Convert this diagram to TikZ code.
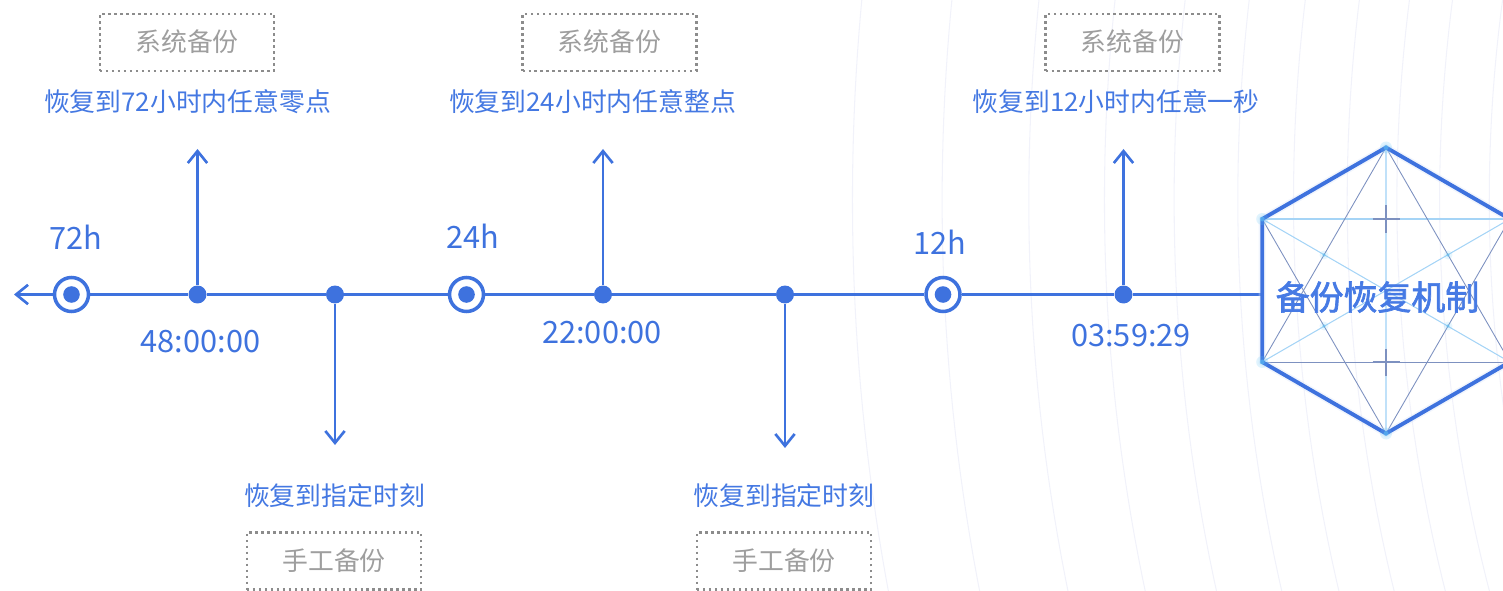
\documentclass[tikz,border=0pt]{standalone}
\usepackage{fontspec}
\setmainfont{Noto Sans CJK SC}
\newfontfamily\emblemfont[FakeBold=2]{Noto Sans CJK SC}
\usetikzlibrary{arrows.meta}

\definecolor{tlblue}{RGB}{62,114,222}
\definecolor{lblblue}{RGB}{68,120,226}
\definecolor{hexblue}{RGB}{70,122,228}
\definecolor{boxgray}{RGB}{140,140,140}
\definecolor{boxtext}{RGB}{158,158,158}
\definecolor{bgwave}{RGB}{241,242,250}
\definecolor{starline}{RGB}{125,145,192}
\definecolor{diagline}{RGB}{165,212,246}
\definecolor{glowcyan}{RGB}{95,195,245}

\begin{document}
\begin{tikzpicture}[x=0.02cm,y=-0.02cm,
  tl/.style={draw=tlblue,line width=1.5pt},
  tlarrow/.style={tl,-{Straight Barb[length=6.8pt,width=11pt]}},
  target/.style={circle,draw=tlblue,line width=2pt,fill=white,minimum size=0.68cm,inner sep=0pt,
    path picture={\fill[tlblue] (path picture bounding box.center) circle (0.166cm);}},
  tick/.style={circle,fill=tlblue,minimum size=0.36cm,inner sep=0pt},
  hours/.style={text=tlblue,font=\fontsize{17.5pt}{20pt}\selectfont,anchor=base,inner sep=0pt},
  note/.style={text=lblblue,font=\fontsize{14.7pt}{17pt}\selectfont,
    text height=12.9pt,text depth=1.8pt,inner sep=0pt},
  backup/.style={draw=boxgray,line width=1.4pt,dash pattern=on 1.4pt off 2pt,
    text=boxtext,font=\fontsize{14.7pt}{17pt}\selectfont,
    text height=12.6pt,text depth=2.1pt,
    minimum width=3.48cm,minimum height=1.14cm,inner sep=0pt},
  bgline/.style={draw=bgwave,line width=0.6pt},
  hexedge/.style={draw=tlblue,line width=2.2pt,line join=miter},
  starln/.style={draw=starline,line width=0.5pt},
  diagln/.style={draw=diagline,line width=0.6pt},
  glow/.style={fill=glowcyan,opacity=0.55},
]
\useasboundingbox (0,0) rectangle (1503,591);
\clip (0,0) rectangle (1503,591);

% faint sweeping background lines
\foreach \xo in {860,950,1037,1113,1183,1247,1303,1357,1407,1450,1500}{
  \draw[bgline] plot[domain=-10:600,samples=30,variable=\t]
    ({3000-100*sqrt(((3000-\xo)/100)^2+3.24-((\t-200)/100)^2)},\t);
}

% timeline stations
\node[target] (t72) at (71.5,294.5) {};
\node[tick]   (d48) at (197.5,294.5) {};
\node[tick]   (dm1) at (335,294.5) {};
\node[target] (t24) at (466.5,294.5) {};
\node[tick]   (d22) at (603,294.5) {};
\node[tick]   (dm2) at (785,294.5) {};
\node[target] (t12) at (943,294.5) {};
\node[tick]   (d03) at (1123.5,294.5) {};
\coordinate (tail) at (14,294.5);
\coordinate (hexw) at (1262,294.5);

\draw[tlarrow] (t72) -- (tail);
\draw[tl] (t72) -- (d48) -- (dm1) -- (t24) -- (d22) -- (dm2) -- (t12) -- (d03) -- (hexw);

% branch arrows
\coordinate (u48) at (197.5,149);
\coordinate (u22) at (603,149);
\coordinate (u03) at (1123.5,149);
\coordinate (v1) at (335,445);
\coordinate (v2) at (785,448);
\draw[tlarrow] (d48) -- (u48);
\draw[tlarrow] (d22) -- (u22);
\draw[tlarrow] (d03) -- (u03);
\draw[tlarrow] (dm1) -- (v1);
\draw[tlarrow] (dm2) -- (v2);

% hour labels and time stamps
\node[hours] (h72) at (75.5,249) {72h};
\node[hours] (h24) at (473,248) {24h};
\node[hours] (h12) at (940,254) {12h};
\node[hours] (s48) at (200.5,352) {48:00:00};
\node[hours] (s22) at (602,343) {22:00:00};
\node[hours] (s03) at (1131,346) {03:59:29};

% restore descriptions
\node[note] (n72) at (187.5,102) {恢复到72小时内任意零点};
\node[note] (n24) at (592.5,102) {恢复到24小时内任意整点};
\node[note] (n12) at (1116,102) {恢复到12小时内任意一秒};
\node[note] (nm1) at (334.5,496) {恢复到指定时刻};
\node[note] (nm2) at (784,496) {恢复到指定时刻};

% backup type boxes
\node[backup] (b1) at (187,42.5) {系统备份};
\node[backup] (b2) at (609.5,42.5) {系统备份};
\node[backup] (b3) at (1132.5,42.5) {系统备份};
\node[backup] (b4) at (334,561) {手工备份};
\node[backup] (b5) at (784,561) {手工备份};

% hexagon emblem
\coordinate (hc)  at (1386,290.5);
\coordinate (htop) at (1386,147.5);
\coordinate (hbot) at (1386,433.5);
\coordinate (hul) at (1262.2,219);
\coordinate (hll) at (1262.2,362);
\coordinate (hur) at (1509.8,219);
\coordinate (hlr) at (1509.8,362);

\draw[diagln,draw=diagline!70] (htop) -- (hbot);
\draw[diagln] (hul) -- (hlr);
\draw[diagln] (hll) -- (hur);
\draw[diagln] (hul) -- (hur);
\draw[starln] (hll) -- (hlr);
\draw[starln] (htop) -- (hll);
\draw[starln] (htop) -- (hlr);
\draw[starln] (hbot) -- (hul);
\draw[starln] (hbot) -- (hur);

% small crosses
\foreach \cy in {219,362}{
  \draw[draw=starline,line width=0.8pt] (1372.5,\cy) -- (1399.5,\cy);
  \draw[draw=starline,line width=0.8pt] (1386,\cy-13.5) -- (1386,\cy+13.5);
}

\draw[draw=tlblue!20,line width=4pt,opacity=0.35]
  (htop) -- (hur) -- (hlr) -- (hbot) -- (hll) -- (hul) -- cycle;
\draw[hexedge] (htop) -- (hur) -- (hlr) -- (hbot) -- (hll) -- (hul) -- cycle;

% glowing points
\foreach \p in {(htop),(hbot),(hul),(hll),(hur),(hlr)}{
  \fill[glow,opacity=0.2] \p circle (6);
  \fill[glow] \p circle (2.5);
}
\foreach \p in {(1324,255),(1448,255),(1324,326),(1448,326)}{
  \fill[glow,opacity=0.15] \p circle (4.5);
  \fill[glow] \p circle (1.8);
}

\node[text=hexblue,font=\emblemfont\fontsize{19.3pt}{22pt}\selectfont,
  text height=17pt,text depth=2.3pt,inner sep=0pt] (title) at (1377.5,297) {备份恢复机制};
\end{tikzpicture}
\end{document}
